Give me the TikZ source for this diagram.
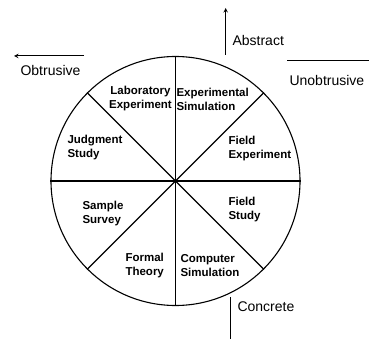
\documentclass[tikz,border=0pt]{standalone}
\usepackage{fontspec}
\setmainfont{Liberation Sans}
\begin{document}
\begin{tikzpicture}[x=1pt, y=-1pt, >=stealth, line width=1.1pt,
   cell/.style={font=\fontsize{11.5}{14}\selectfont\bfseries, inner sep=0pt, align=left},
   pole/.style={font=\fontsize{14}{16}\selectfont, inner sep=0pt},
   axis/.style={line width=1pt}]
   \useasboundingbox (0,0) rectangle (369,339);
   \node [circle, draw, minimum size=249pt, inner sep=0pt] (wheel) at (175.5,181) {};
   \draw (wheel.90) -- (wheel.270);
   \draw (wheel.0) -- (wheel.180);
   \draw (wheel.45) -- (wheel.225);
   \draw (wheel.135) -- (wheel.315);

   % strategies
   \node [cell, align=center] (lab) at (140.5,99) {Laboratory\\Experiment};
   \node [cell, anchor=west] (expsim) at (176,99) {Experimental\\Simulation};
   \node [cell, anchor=west] (judge) at (67,148) {Judgment\\Study};
   \node [cell, anchor=west] (survey) at (82,214) {Sample\\Survey};
   \node [cell, anchor=west] (fieldexp) at (228,149) {Field\\Experiment};
   \node [cell, anchor=west] (fieldst) at (228,210) {Field\\Study};
   \node [cell, anchor=west, align=right] (formal) at (125,266) {Formal\\Theory};
   \node [cell, anchor=west] (compsim) at (180,266) {Computer\\Simulation};

   % dimensions
   \node [pole, anchor=west] (abstract) at (232,40) {Abstract};
   \coordinate (absfoot) at (225.7,55);
   \coordinate (abstop) at (225.7,8);
   \draw [axis, ->] (absfoot) -- (abstop);
   \node [pole, anchor=west] (obtr) at (20,70) {Obtrusive};
   \coordinate (obtrfoot) at (84,56);
   \coordinate (obtrtip) at (14,56);
   \draw [axis, ->] (obtrfoot) -- (obtrtip);
   \node [pole, anchor=west] (unobtr) at (289,80.5) {Unobtrusive};
   \coordinate (unobtrfoot) at (287,60.7);
   \coordinate (unobtrend) at (369,60.7);
   \draw [axis] (unobtrfoot) -- (unobtrend);
   \node [pole, anchor=west] (concrete) at (237,307) {Concrete};
   \coordinate (concfoot) at (230,297);
   \coordinate (concend) at (230,339);
   \draw [axis] (concfoot) -- (concend);
\end{tikzpicture}
\end{document}
